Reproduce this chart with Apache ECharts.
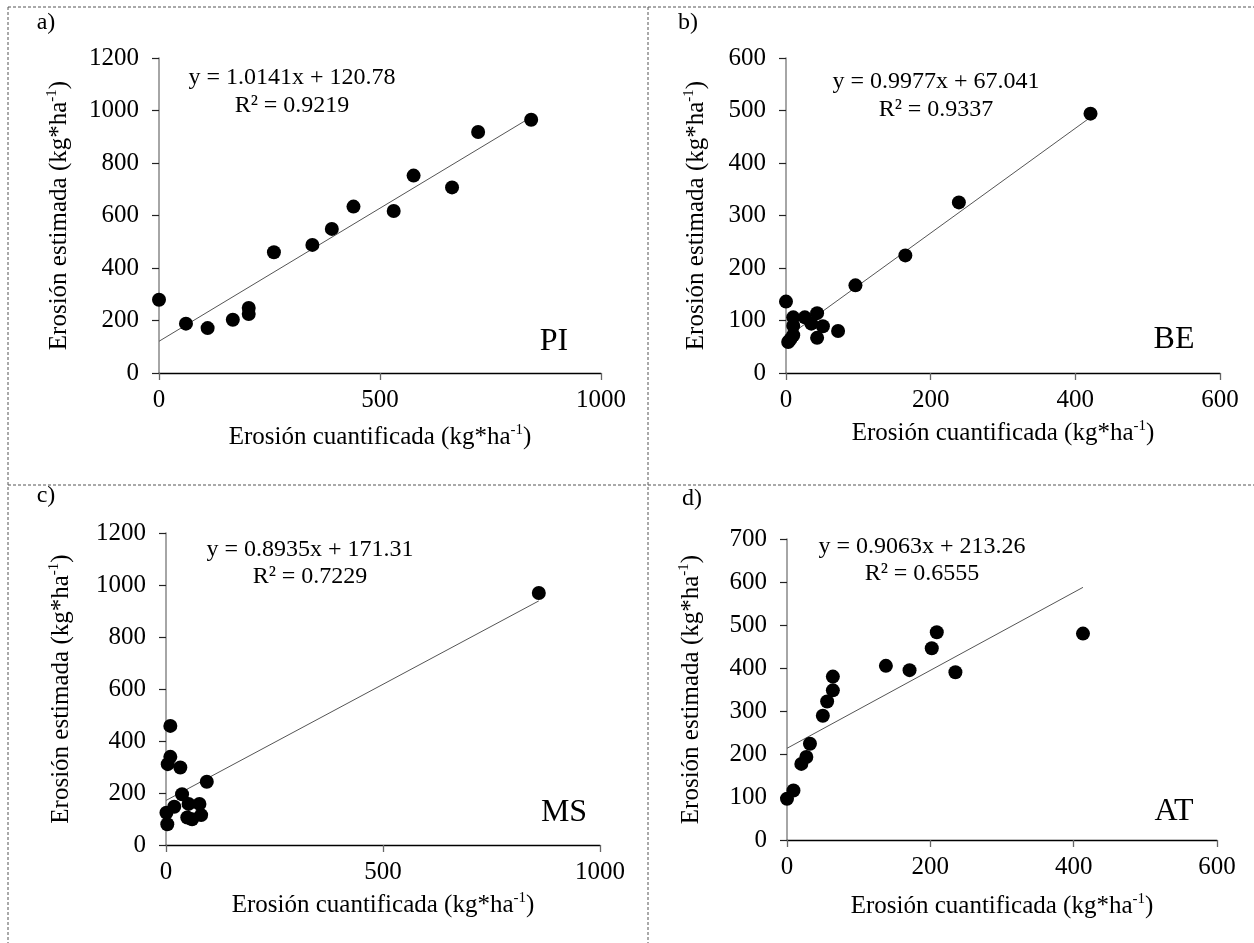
<!DOCTYPE html>
<html><head><meta charset="utf-8">
<script src="https://cdn.jsdelivr.net/npm/echarts@6/dist/echarts.min.js"></script>
<style>html,body{margin:0;padding:0;background:#fff}#c{width:1254px;height:943px}</style>
</head><body><div id="c"></div>
<script>
const FONT = 'Liberation Serif';

// ---- data ----
const piX = [0, 61, 110, 167, 203, 203, 260, 347, 391, 440, 531, 576, 663, 722, 842];
const piY = [279, 188, 171, 203, 248, 225, 460, 488, 549, 634, 617, 752, 707, 918, 965];

const beX = [0, 3, 6, 10, 10, 10, 26, 35, 43, 51, 43, 72, 96, 165, 239, 421];
const beY = [136, 59, 64, 72, 90, 106, 106, 94, 114, 89, 67, 80, 167, 224, 325, 494];

const msX = [10, 10, 4, 33, 94, 37, 19, 1, 3, 52, 77, 49, 60, 81, 859];
const msY = [458, 339, 311, 298, 243, 195, 147, 124, 80, 158, 158, 106, 99, 115, 969];

const atX = [0, 9, 20, 27, 32, 50, 56, 64, 64, 138, 171, 202, 209, 235, 413];
const atY = [96, 115, 177, 193, 224, 289, 322, 348, 380, 405, 395, 446, 483, 390, 480];

const codes = ['PI', 'BE', 'MS', 'AT'];
const letters = ['a)', 'b)', 'c)', 'd)'];
const slopes = [1.0141, 0.9977, 0.8935, 0.9063];
const intercepts = [120.78, 67.041, 171.31, 213.26];
const r2Values = ['0.9219', '0.9337', '0.7229', '0.6555'];
const xMaxes = [1000, 600, 1000, 600];
const xSteps = [500, 200, 500, 200];
const yMaxes = [1200, 600, 1200, 700];
const ySteps = [200, 100, 200, 100];
const xTitle = 'Erosión cuantificada (kg*ha';
const yTitle = 'Erosión estimada (kg*ha';

const seriesX = [piX, beX, msX, atX];
const seriesY = [piY, beY, msY, atY];

// ---- layout ----
const layout = [
  {grid: {left: 159, top: 58, width: 442, height: 315}, xGap: 50, yGap: 86, eq: [292, 78], r2: [292, 106], code: [554, 342], letter: [46, 23]},
  {grid: {left: 786, top: 58, width: 434, height: 315}, xGap: 46, yGap: 76, eq: [936, 82], r2: [936, 110], code: [1174, 340], letter: [688, 23]},
  {grid: {left: 166, top: 533, width: 434, height: 312}, xGap: 46, yGap: 91, eq: [310, 550], r2: [310, 577], code: [564, 813], letter: [46, 496]},
  {grid: {left: 787, top: 539, width: 430, height: 301}, xGap: 52, yGap: 82, eq: [922, 547], r2: [922, 574], code: [1174, 812], letter: [692, 499]}
];

const richName = {
  t: {fontFamily: FONT, fontSize: 25, color: '#000', lineHeight: 28},
  s: {fontFamily: FONT, fontSize: 15, color: '#000', lineHeight: 13, verticalAlign: 'top'}
};

const grids = [], xAxes = [], yAxes = [], series = [], graphics = [];
const plain = v => String(v);

layout.forEach((L, i) => {
  grids.push(Object.assign({containLabel: false}, L.grid));
  xAxes.push({
    gridIndex: i, type: 'value', min: 0, max: xMaxes[i], interval: xSteps[i],
    axisLine: {show: true, onZero: false, lineStyle: {color: '#000', width: 1.3}},
    axisTick: {show: true, length: 7, lineStyle: {color: '#666', width: 1.3}},
    axisLabel: {fontFamily: FONT, fontSize: 25, color: '#000', margin: 15, formatter: plain},
    splitLine: {show: false},
    name: '{t|' + xTitle + '}{s|-1}{t|)}',
    nameLocation: 'middle', nameGap: L.xGap,
    nameTextStyle: {rich: richName}
  });
  yAxes.push({
    gridIndex: i, type: 'value', min: 0, max: yMaxes[i], interval: ySteps[i],
    axisLine: {show: true, onZero: false, lineStyle: {color: '#888', width: 1.5}},
    axisTick: {show: true, length: 7, lineStyle: {color: '#222', width: 1.2}},
    axisLabel: {fontFamily: FONT, fontSize: 25, color: '#000', margin: 20, formatter: plain},
    splitLine: {show: false},
    name: '{t|' + yTitle + '}{s|-1}{t|)}',
    nameLocation: 'middle', nameGap: L.yGap,
    nameTextStyle: {rich: richName}
  });
  const xs = seriesX[i], ys = seriesY[i];
  const pts = xs.map((x, k) => [x, ys[k]]);
  const xEnd = Math.max.apply(null, xs);
  series.push({
    type: 'line', xAxisIndex: i, yAxisIndex: i, showSymbol: false, silent: true, z: 1,
    data: [[0, intercepts[i]], [xEnd, slopes[i] * xEnd + intercepts[i]]],
    lineStyle: {color: '#555', width: 1}
  });
  series.push({
    type: 'scatter', xAxisIndex: i, yAxisIndex: i, symbol: 'circle', symbolSize: 14, z: 3,
    data: pts, itemStyle: {color: '#000', opacity: 1}
  });
  const txt = (t, p, size) => ({
    type: 'text', x: p[0], y: p[1], z: 10,
    style: {text: t, fontFamily: FONT, fontSize: size, fill: '#000', textAlign: 'center', textVerticalAlign: 'middle'}
  });
  graphics.push(txt('y = ' + slopes[i].toFixed(4) + 'x + ' + intercepts[i], L.eq, 24));
  graphics.push(txt('R² = ' + r2Values[i], L.r2, 24));
  graphics.push(txt(codes[i], L.code, 32));
  graphics.push(txt(letters[i], L.letter, 24));
});

// dashed cell borders
const dash = (x1, y1, x2, y2) => ({
  type: 'line', z: 0, shape: {x1, y1, x2, y2},
  style: {stroke: '#555', lineWidth: 1, lineDash: [3, 2]}
});
graphics.push(dash(8, 7, 1254, 7));
graphics.push(dash(8, 7, 8, 943));
graphics.push(dash(648, 7, 648, 943));
graphics.push(dash(8, 485, 1254, 485));

const chart = echarts.init(document.getElementById('c'), null, {renderer: 'canvas'});
chart.setOption({
  animation: false,
  backgroundColor: '#fff',
  grid: grids, xAxis: xAxes, yAxis: yAxes, series: series,
  graphic: graphics
});
</script></body></html>
